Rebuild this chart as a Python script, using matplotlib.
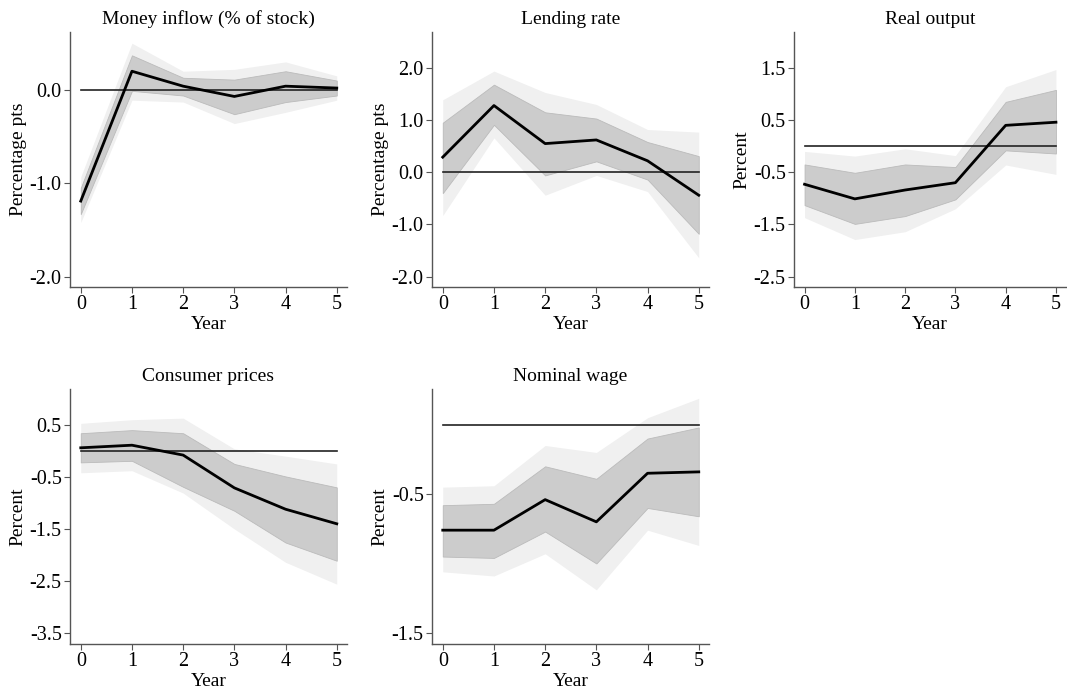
import numpy as np
import matplotlib
matplotlib.use('Agg')
import matplotlib.pyplot as plt

plt.rcParams['font.family'] = ['Liberation Serif', 'DejaVu Serif']
plt.rcParams['font.size'] = 14

years = [0, 1, 2, 3, 4, 5]

# Money inflow (% of stock)
money_irf = [-1.19, 0.20, 0.04, -0.07, 0.04, 0.02]
money_dark_hi = [-1.05, 0.37, 0.13, 0.11, 0.20, 0.10]
money_dark_lo = [-1.33, -0.01, -0.06, -0.26, -0.13, -0.06]
money_light_hi = [-0.93, 0.50, 0.20, 0.22, 0.30, 0.15]
money_light_lo = [-1.42, -0.11, -0.13, -0.36, -0.24, -0.11]

# Lending rate
lend_irf = [0.29, 1.28, 0.55, 0.62, 0.22, -0.44]
lend_dark_hi = [0.95, 1.68, 1.15, 1.03, 0.58, 0.31]
lend_dark_lo = [-0.40, 0.91, -0.06, 0.21, -0.14, -1.18]
lend_light_hi = [1.39, 1.94, 1.53, 1.30, 0.82, 0.77]
lend_light_lo = [-0.83, 0.66, -0.44, -0.06, -0.37, -1.64]

# Real output
output_irf = [-0.73, -1.01, -0.84, -0.70, 0.40, 0.46]
output_dark_hi = [-0.35, -0.51, -0.35, -0.40, 0.85, 1.08]
output_dark_lo = [-1.13, -1.49, -1.34, -1.02, -0.08, -0.14]
output_light_hi = [-0.10, -0.19, -0.05, -0.18, 1.14, 1.47]
output_light_lo = [-1.37, -1.79, -1.64, -1.20, -0.36, -0.54]

# Consumer prices
cpi_irf = [0.06, 0.11, -0.08, -0.71, -1.12, -1.40]
cpi_dark_hi = [0.34, 0.40, 0.34, -0.25, -0.49, -0.70]
cpi_dark_lo = [-0.22, -0.19, -0.69, -1.15, -1.76, -2.11]
cpi_light_hi = [0.53, 0.60, 0.63, 0.04, -0.10, -0.25]
cpi_light_lo = [-0.42, -0.38, -0.81, -1.50, -2.14, -2.56]

# Nominal wage
wage_irf = [-0.76, -0.76, -0.54, -0.70, -0.35, -0.34]
wage_dark_hi = [-0.58, -0.57, -0.30, -0.39, -0.10, -0.02]
wage_dark_lo = [-0.95, -0.96, -0.77, -1.00, -0.60, -0.66]
wage_light_hi = [-0.45, -0.44, -0.15, -0.20, 0.05, 0.19]
wage_light_lo = [-1.06, -1.09, -0.93, -1.19, -0.76, -0.87]

panels = [
    ('Money inflow (% of stock)', 'Percentage pts', money_irf, money_dark_hi, money_dark_lo,
     money_light_hi, money_light_lo, [-2.0, -1.0, 0.0], (-2.11, 0.62)),
    ('Lending rate', 'Percentage pts', lend_irf, lend_dark_hi, lend_dark_lo,
     lend_light_hi, lend_light_lo, [-2.0, -1.0, 0.0, 1.0, 2.0], (-2.20, 2.69)),
    ('Real output', 'Percent', output_irf, output_dark_hi, output_dark_lo,
     output_light_hi, output_light_lo, [-2.5, -1.5, -0.5, 0.5, 1.5], (-2.70, 2.19)),
    ('Consumer prices', 'Percent', cpi_irf, cpi_dark_hi, cpi_dark_lo,
     cpi_light_hi, cpi_light_lo, [-3.5, -2.5, -1.5, -0.5, 0.5], (-3.71, 1.19)),
    ('Nominal wage', 'Percent', wage_irf, wage_dark_hi, wage_dark_lo,
     wage_light_hi, wage_light_lo, [-1.5, -0.5], (-1.58, 0.257)),
]

W, H = 1067, 693
# axes boxes in pixels: left, right, top, bottom
boxes = [(70, 347, 32, 287), (432, 709, 32, 287), (794, 1066, 32, 287),
         (70, 347, 389, 644), (432, 709, 389, 644)]

fig = plt.figure(figsize=(W / 100, H / 100), dpi=100)
spine_col = '#555555'

for (title, ylab, irf, dhi, dlo, lhi, llo, yt, ylim), (l, r, t, b) in zip(panels, boxes):
    ax = fig.add_axes([l / W, 1 - b / H, (r - l) / W, (b - t) / H])
    ax.fill_between(years, llo, lhi, color='#f0f0f0', lw=0, zorder=1)
    ax.fill_between(years, dlo, dhi, facecolor='#cccccc', edgecolor='#bbbbbb', lw=0.6, zorder=2)
    ax.plot([0, 5], [0, 0], color='#222222', lw=1.2, zorder=3)
    ax.plot(years, irf, color='black', lw=2.0, zorder=4)
    ax.set_xlim(-0.21, 5.2)
    ax.set_ylim(*ylim)
    ax.set_xticks(years)
    ax.set_yticks(yt)
    ax.set_yticklabels([f'{v:.1f}' for v in yt])
    for s in ('top', 'right'):
        ax.spines[s].set_visible(False)
    for s in ('left', 'bottom'):
        ax.spines[s].set_color(spine_col)
        ax.spines[s].set_linewidth(1.0)
    ax.tick_params(direction='out', length=4, width=0.8, color=spine_col,
                   labelsize=14.5, pad=2)
    ax.set_title(title, fontsize=14, pad=6)
    ax.set_xlabel('Year', fontsize=14, labelpad=1)
    ax.set_ylabel(ylab, fontsize=14, labelpad=2)

fig.savefig('out.png', dpi=100)
